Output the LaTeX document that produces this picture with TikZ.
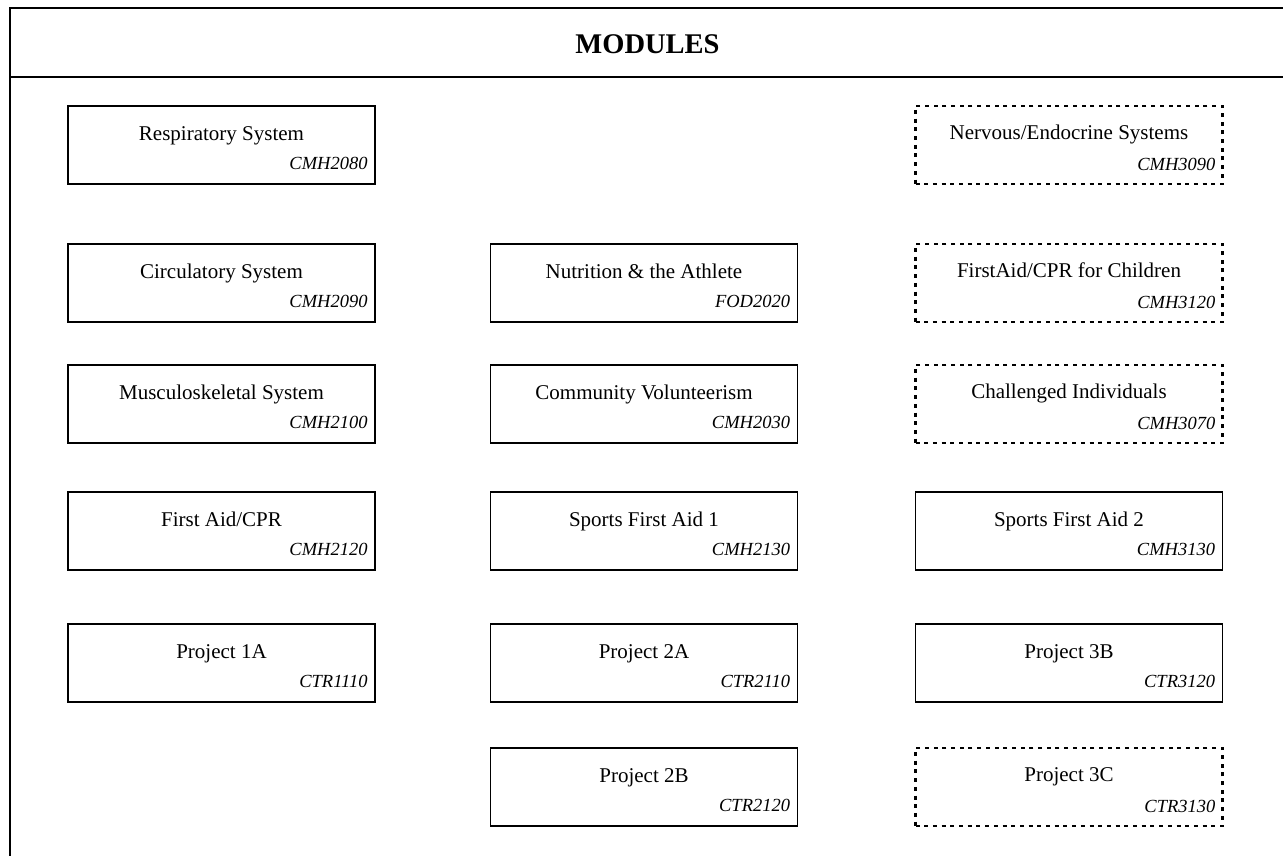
\documentclass[tikz,border=0pt]{standalone}
\usepackage{fontspec}
\setmainfont{Liberation Serif}
\usepackage{tikz}
\usetikzlibrary{positioning}

\begin{document}
\begin{tikzpicture}[x=1pt,y=-1pt]
    \tikzset{modbox/.style={draw,line width=1.5pt,minimum width=307pt,minimum height=78pt,inner sep=0pt},
      moddash/.style={modbox,line width=2.1pt,dash pattern=on 4pt off 4.7pt},
      modname/.style={anchor=base,yshift=-35pt,inner sep=0pt,font=\fontsize{21}{25}\selectfont},
      modcode/.style={anchor=base east,xshift=-8pt,yshift=15pt,inner sep=0pt,font=\fontsize{18.5}{22}\selectfont\itshape},
      frame/.style={line width=2pt}}
    \clip (0,0) rectangle (1283,856);
    % heading
    \draw[frame] (1300,8) -- (10,8) -- (10,870);
    \draw[frame] (10,77) -- (1300,77);
    \node[anchor=base,inner sep=0pt,font=\fontsize{28.5}{34}\selectfont\bfseries] (title) at (647.5,54) {MODULES};
    % first column
    \node[modbox,label={[modname]north:Respiratory System},label={[modcode]south east:CMH2080}] (resp) at (221.5,145) {};
    \node[modbox,label={[modname]north:Circulatory System},label={[modcode]south east:CMH2090}] (circ) at (221.5,283) {};
    \node[modbox,label={[modname]north:Musculoskeletal System},label={[modcode]south east:CMH2100}] (musc) at (221.5,404) {};
    \node[modbox,label={[modname]north:First Aid/CPR},label={[modcode]south east:CMH2120}] (aid) at (221.5,531) {};
    \node[modbox,label={[modname]north:Project 1A},label={[modcode]south east:CTR1110}] (proja) at (221.5,663) {};
    % second column
    \node[modbox,label={[modname]north:Nutrition \& the Athlete},label={[modcode]south east:FOD2020}] (nutr) at (644,283) {};
    \node[modbox,label={[modname]north:Community Volunteerism},label={[modcode]south east:CMH2030}] (volu) at (644,404) {};
    \node[modbox,label={[modname]north:Sports First Aid 1},label={[modcode]south east:CMH2130}] (sportsa) at (644,531) {};
    \node[modbox,label={[modname]north:Project 2A},label={[modcode]south east:CTR2110}] (projb) at (644,663) {};
    \node[modbox,label={[modname]north:Project 2B},label={[modcode]south east:CTR2120}] (projc) at (644,787) {};
    % third column
    \node[moddash,label={[modname]north:Nervous/Endocrine Systems},label={[modcode]south east:CMH3090}] (nerv) at (1069,145) {};
    \node[moddash,label={[modname]north:FirstAid/CPR for Children},label={[modcode]south east:CMH3120}] (child) at (1069,283) {};
    \node[moddash,label={[modname]north:Challenged Individuals},label={[modcode]south east:CMH3070}] (chall) at (1069,404) {};
    \node[modbox,label={[modname]north:Sports First Aid 2},label={[modcode]south east:CMH3130}] (sportsb) at (1069,531) {};
    \node[modbox,label={[modname]north:Project 3B},label={[modcode]south east:CTR3120}] (projd) at (1069,663) {};
    \node[moddash,label={[modname]north:Project 3C},label={[modcode]south east:CTR3130}] (proje) at (1069,787) {};
  \end{tikzpicture}
\end{document}
